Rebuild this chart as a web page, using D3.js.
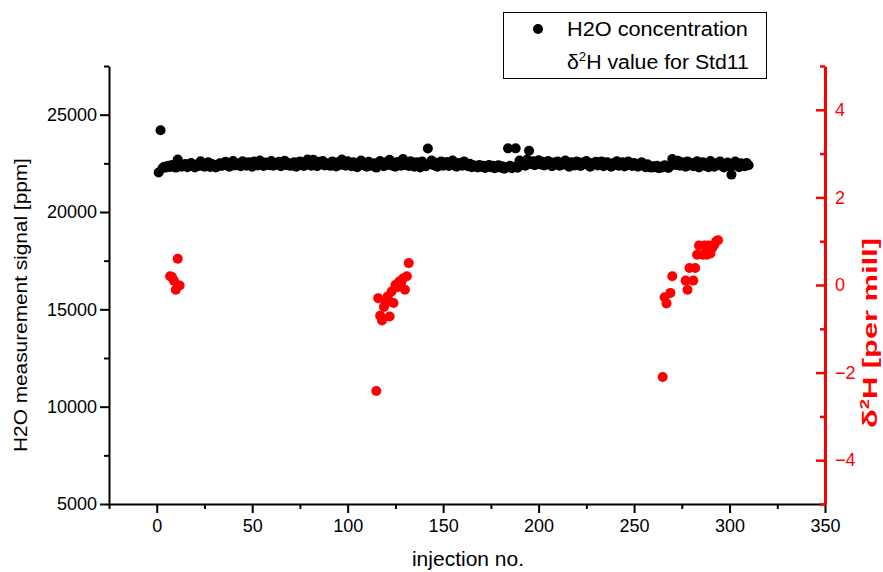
<!DOCTYPE html>
<html><head><meta charset="utf-8">
<script src="https://cdn.jsdelivr.net/npm/d3@7"></script>
<style>
body{margin:0;background:#fff;}
svg{display:block;font-family:"Liberation Sans",Arial,sans-serif;}
</style></head><body>
<svg id="chart" width="883" height="572"></svg>
<script>
// ---- data ----
const h2oFirstInjection = 1;
const h2oValues = [
22030,24200,22250,22330,22290,22380,22310,22420,22360,22280,
22700,22450,22330,22390,22470,22300,22420,22520,22380,22290,
22440,22360,22610,22480,22330,22400,22550,22310,22460,22380,
22290,22420,22500,22360,22430,22580,22400,22330,22470,22620,
22390,22500,22440,22350,22610,22470,22380,22550,22420,22330,
22600,22480,22390,22650,22430,22360,22540,22470,22400,22620,
22380,22510,22440,22580,22350,22470,22630,22400,22520,22370,
22450,22560,22330,22480,22600,22410,22360,22540,22700,22430,
22380,22690,22470,22350,22580,22450,22620,22390,22510,22430,
22370,22600,22480,22340,22550,22420,22700,22460,22380,22610,
22490,22350,22560,22440,22300,22520,22650,22400,22470,22330,
22580,22440,22360,22510,22280,22400,22620,22470,22350,22550,
22430,22680,22390,22500,22330,22570,22450,22380,22720,22420,
22500,22360,22610,22440,22330,22550,22470,22290,22600,22420,
22350,23260,22480,22650,22400,22530,22330,22460,22600,22380,
22440,22570,22360,22490,22640,22400,22330,22520,22450,22380,
22600,22420,22350,22480,22300,22400,22360,22290,22410,22330,
22380,22260,22350,22420,22300,22370,22250,22330,22400,22280,
22350,22220,22300,23270,22380,22250,22330,23270,22270,22640,
22450,22560,22380,22700,23150,22470,22610,22400,22530,22660,
22440,22580,22390,22500,22620,22450,22350,22540,22470,22600,
22380,22510,22440,22650,22400,22330,22560,22480,22390,22600,
22450,22360,22540,22470,22620,22400,22330,22510,22450,22580,
22390,22470,22600,22350,22440,22560,22400,22320,22500,22430,
22610,22380,22470,22550,22340,22430,22590,22400,22360,22520,
22440,22330,22480,22560,22400,22300,22450,22370,22280,22350,
22300,22380,22250,22330,22290,22400,22320,22260,22370,22720,
22500,22420,22630,22380,22550,22460,22330,22600,22400,22520,
22350,22470,22610,22290,22430,22550,22380,22480,22300,22620,
22400,22330,22510,22440,22600,22370,22290,22460,22540,22350,
21920,22420,22590,22380,22300,22500,22430,22350,22520,22400
];
const std11Injection = [7,8,9,10,11,12,
 115,116,117,118,119,120,121,122,123,124,125,126,127,128,129,130,131,132,
 265,266,267,269,270,277,278,279,281,282,283,284,286,287,288,289,290,291,292,293,294];
const std11Delta = [0.20,0.18,0.10,-0.11,0.60,-0.01,
 -2.42,-0.30,-0.70,-0.81,-0.50,-0.40,-0.26,-0.72,-0.15,-0.41,0.00,-0.05,0.08,0.05,0.15,-0.11,0.20,0.50,
 -2.10,-0.28,-0.42,-0.18,0.20,0.10,-0.11,0.39,0.10,0.39,0.69,0.90,0.69,0.90,0.69,0.90,0.72,0.85,0.92,1.00,1.02];
const xTicksMajor = [0,50,100,150,200,250,300,350];
const xTicksMinor = [-25,25,75,125,175,225,275,325];
const yLeftTicksMajor = [5000,10000,15000,20000,25000];
const yLeftTicksMinor = [7500,12500,17500,22500,27500];
const yRightTicksMajor = [-4,-2,0,2,4];
const yRightTicksMinor = [-5,-3,-1,1,3,5];
const legendLabels = ["H2O concentration", "value for Std11"];

// ---- chart ----
const svg = d3.select("#chart");
const x = d3.scaleLinear().domain([-25,350]).range([109,825]);
const yL = d3.scaleLinear().domain([5000,27500]).range([504,66]);
const yR = d3.scaleLinear().domain([-5,5]).range([504,66]);

svg.append("g").selectAll("circle").data(h2oValues).join("circle")
  .attr("cx",(d,i)=>x(h2oFirstInjection+i)).attr("cy",d=>yL(d)).attr("r",5).attr("fill","#000");
svg.append("g").selectAll("circle").data(std11Injection).join("circle")
  .attr("cx",d=>x(d)).attr("cy",(d,i)=>yR(std11Delta[i])).attr("r",5).attr("fill","#ff0000");

function style(g, color, lw, fs){
  g.selectAll("path.domain").attr("stroke",color).attr("stroke-width",lw);
  g.selectAll(".tick line").attr("stroke",color).attr("stroke-width",2);
  g.selectAll(".tick text").attr("fill",color).attr("font-size",fs)
    .attr("font-family","'Liberation Sans',Arial,sans-serif");
}
// bottom
const gb = svg.append("g").attr("transform","translate(0,504)");
gb.call(d3.axisBottom(x).tickValues(xTicksMajor).tickSize(9).tickSizeOuter(0).tickPadding(6).tickFormat(d3.format("d")));
style(gb,"#000",2,18);
const gbm = svg.append("g").attr("transform","translate(0,504)");
gbm.call(d3.axisBottom(x).tickValues(xTicksMinor).tickSize(5).tickSizeOuter(0).tickFormat(""));
gbm.select("path.domain").remove(); style(gbm,"#000",2,18);
// left
const gl = svg.append("g").attr("transform","translate(109,0)");
gl.call(d3.axisLeft(yL).tickValues(yLeftTicksMajor).tickSize(9).tickSizeOuter(0).tickPadding(3).tickFormat(d3.format("d")));
style(gl,"#000",2,18);
const glm = svg.append("g").attr("transform","translate(109,0)");
glm.call(d3.axisLeft(yL).tickValues(yLeftTicksMinor).tickSize(5).tickSizeOuter(0).tickFormat(""));
glm.select("path.domain").remove(); style(glm,"#000",2,18);
// right
const gr = svg.append("g").attr("transform","translate(825,0)");
gr.call(d3.axisRight(yR).tickValues(yRightTicksMajor).tickSize(-9).tickSizeOuter(0).tickPadding(10).tickFormat(d3.format("d")));
style(gr,"#ff0000",3,18);
const grm = svg.append("g").attr("transform","translate(825,0)");
grm.call(d3.axisRight(yR).tickValues(yRightTicksMinor).tickSize(-5).tickSizeOuter(0).tickFormat(""));
grm.select("path.domain").remove(); style(grm,"#ff0000",3,18);
gr.selectAll(".tick line").attr("stroke-width",2.5);
grm.selectAll(".tick line").attr("stroke-width",2.5);

// stretch a text element along its baseline to a target length
function fit(t, base, target){
  const w = t.node().getBBox().width;
  t.attr("transform", base + " scale(" + (target / w) + ",1)");
}

// titles
const lt = svg.append("text").attr("text-anchor","middle")
  .attr("font-size",19).attr("fill","#000").text("H2O measurement signal [ppm]");
fit(lt, "translate(27,305) rotate(-90)", 294);
svg.append("text").attr("x",468).attr("y",566).attr("text-anchor","middle")
  .attr("font-size",21).attr("fill","#000").text("injection no.");
const rt = svg.append("text").attr("text-anchor","middle")
  .attr("font-size",20).attr("font-weight","bold").attr("fill","#ff0000");
rt.append("tspan").text("δ");
rt.append("tspan").attr("font-size",12).attr("dy",-8).text("2");
rt.append("tspan").attr("dy",8).text("H [per mill]");
fit(rt, "translate(877,333) rotate(-90)", 190);

// legend
const lg = svg.append("g");
lg.append("rect").attr("x",503.5).attr("y",12.5).attr("width",263).attr("height",66)
  .attr("fill","#fff").attr("stroke","#000").attr("stroke-width",1);
lg.append("circle").attr("cx",538).attr("cy",29).attr("r",5).attr("fill","#000");
const l1 = lg.append("text").attr("font-size",21).attr("fill","#000").text(legendLabels[0]);
fit(l1, "translate(567,36)", 181);
const l2 = lg.append("text").attr("font-size",21).attr("fill","#000");
l2.append("tspan").text("δ");
l2.append("tspan").attr("font-size",13).attr("dy",-8).text("2");
l2.append("tspan").attr("dy",8).text("H " + legendLabels[1]);
fit(l2, "translate(567,69)", 182);
</script>
</body></html>
